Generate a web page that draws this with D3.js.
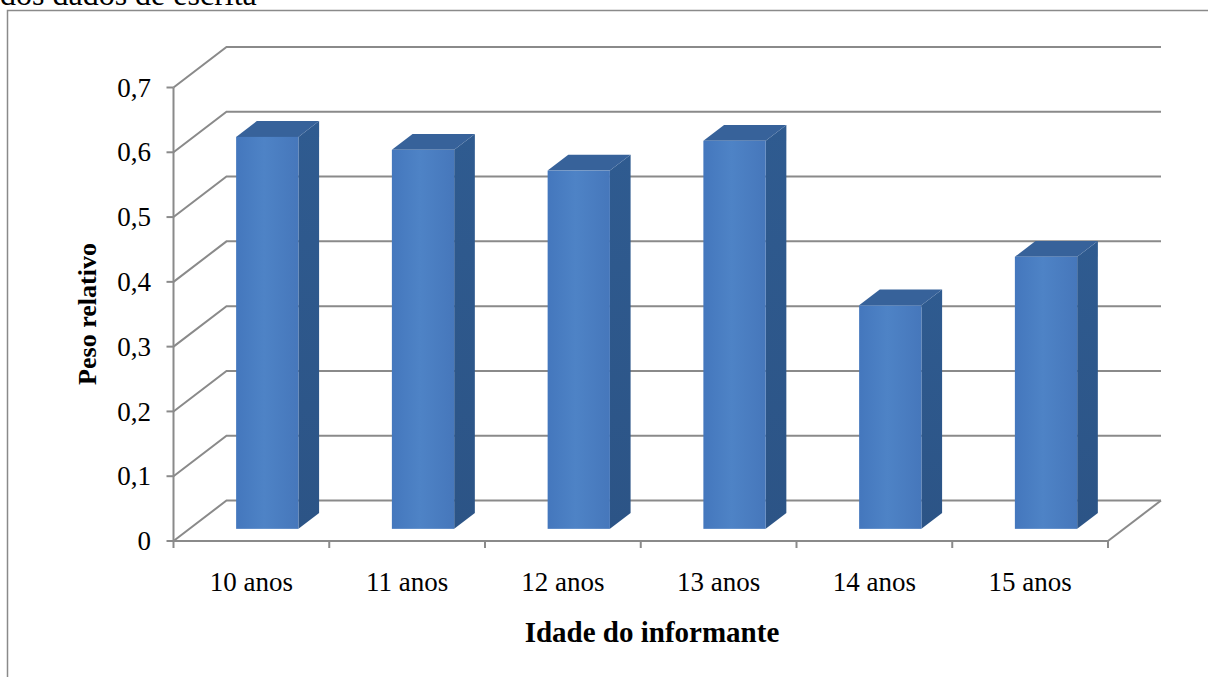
<!DOCTYPE html>
<html>
<head>
<meta charset="utf-8">
<script src="https://cdn.jsdelivr.net/npm/d3@7"></script>
<style>
  html, body { margin: 0; padding: 0; background: #fff; }
  svg { display: block; }
  text { font-family: "Liberation Serif", "Times New Roman", serif; fill: #000; }
</style>
</head>
<body>
<svg id="chart" width="1208" height="677"></svg>
<script>
// Peso relativo por idade do informante
const categories = ["10 anos", "11 anos", "12 anos", "13 anos", "14 anos", "15 anos"];
const values = [0.605, 0.585, 0.553, 0.599, 0.345, 0.42];
const yTicks = [0, 0.1, 0.2, 0.3, 0.4, 0.5, 0.6, 0.7];
const yTickLabels = ["0", "0,1", "0,2", "0,3", "0,4", "0,5", "0,6", "0,7"];

const svg = d3.select("#chart");

// caption line above the frame, partly cut off at the top
svg.append("text")
  .attr("x", 0).attr("y", 5)
  .style("font-size", "32px")
  .text("dos dados de escrita");

// chart frame
svg.append("rect")
  .attr("x", 7.5).attr("y", 10.5)
  .attr("width", 1400).attr("height", 900)
  .attr("fill", "#fff").attr("stroke", "#8a8a8a").attr("stroke-width", 1.5);

// 3D projection: category position, value and depth (0 = front, 1 = back wall)
const x = d3.scaleLinear().domain([0, categories.length]).range([173.5, 1108]);
const y = d3.scaleLinear().domain([0, 0.7]).range([541, 87.5]);
const DX = 53, DY = -40.5;
const P = (cx, v, z) => [x(cx) + z * DX, y(v) + z * DY];

const gridColor = "#8a8a8a";
const line = d3.line();

// left side wall gridlines (diagonals) and back wall gridlines
const grid = svg.append("g").attr("fill", "none").attr("stroke", gridColor).attr("stroke-width", 2);
yTicks.forEach(t => {
  grid.append("path").attr("d", line([P(0, t, 0), P(0, t, 1), P(categories.length, t, 1)]));
});
// floor right edge
grid.append("path").attr("d", line([P(categories.length, 0, 0), P(categories.length, 0, 1)]));

// bars: front face, right side and top
const bw0 = 0.3, bw1 = 0.7, z0 = 0.3, z1 = 0.69;
const defs = svg.append("defs");
const fg = defs.append("linearGradient").attr("id", "front").attr("x1", 0).attr("x2", 1);
fg.append("stop").attr("offset", 0).attr("stop-color", "#4477bd");
fg.append("stop").attr("offset", 0.45).attr("stop-color", "#4e83c6");
fg.append("stop").attr("offset", 1).attr("stop-color", "#4677bb");
const sg = defs.append("linearGradient").attr("id", "side").attr("x1", 0).attr("x2", 0).attr("y1", 0).attr("y2", 1);
sg.append("stop").attr("offset", 0).attr("stop-color", "#2f5b90");
sg.append("stop").attr("offset", 1).attr("stop-color", "#2c5486");

const bars = svg.append("g");
values.forEach((v, i) => {
  const g = bars.append("g");
  const a = i + bw0, b = i + bw1;
  // right side face
  g.append("path")
    .attr("d", line([P(b, 0, z0), P(b, 0, z1), P(b, v, z1), P(b, v, z0)]) + "Z")
    .attr("fill", "url(#side)");
  // top face
  g.append("path")
    .attr("d", line([P(a, v, z0), P(b, v, z0), P(b, v, z1), P(a, v, z1)]) + "Z")
    .attr("fill", "#37629a");
  // front face
  const [fx0, fy0] = P(a, v, z0);
  const [fx1, fy1] = P(b, 0, z0);
  g.append("rect")
    .attr("x", fx0).attr("y", fy0)
    .attr("width", fx1 - fx0).attr("height", fy1 - fy0)
    .attr("fill", "url(#front)");
});

// vertical axis with ticks
const axisG = svg.append("g").attr("stroke", gridColor).attr("stroke-width", 2).attr("fill", "none");
axisG.append("path").attr("d", line([P(0, 0, 0), P(0, 0.7, 0)]));
yTicks.forEach(t => {
  axisG.append("path").attr("d", line([[x(0) - 7, y(t)], [x(0), y(t)]]));
});
// horizontal axis (front edge of the floor) with ticks
axisG.append("path").attr("d", line([P(0, 0, 0), P(categories.length, 0, 0)]));
d3.range(categories.length + 1).forEach(k => {
  axisG.append("path").attr("d", line([[x(k), y(0)], [x(k), y(0) + 7]]));
});

// tick labels
svg.append("g").selectAll("text").data(yTicks).join("text")
  .attr("x", 151).attr("y", d => y(d)).attr("dy", "0.34em")
  .attr("text-anchor", "end")
  .style("font-size", "27px")
  .text((d, i) => yTickLabels[i]);

svg.append("g").selectAll("text").data(categories).join("text")
  .attr("x", (d, i) => x(i + 0.5)).attr("y", 591)
  .attr("text-anchor", "middle")
  .style("font-size", "27px")
  .text(d => d);

// axis titles
svg.append("text")
  .attr("transform", "translate(96,314) rotate(-90)")
  .attr("text-anchor", "middle")
  .style("font-size", "26px").style("font-weight", "bold")
  .text("Peso relativo");

svg.append("text")
  .attr("x", 652).attr("y", 642)
  .attr("text-anchor", "middle")
  .style("font-size", "29px").style("font-weight", "bold")
  .text("Idade do informante");
</script>
</body>
</html>
